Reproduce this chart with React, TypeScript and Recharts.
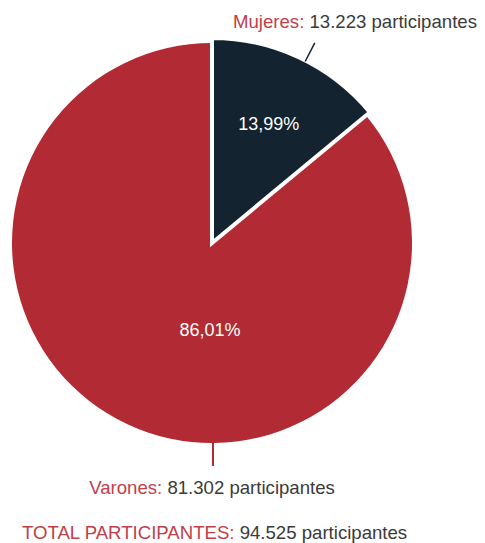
import { PieChart, Pie, Cell } from "recharts";

const groups = ["Mujeres", "Varones"];
const participants = [13223, 81302];
const shares = ["13,99%", "86,01%"];
const counts = ["13.223", "81.302"];
const total = "94.525";

const RED = "#b22b34";
const DARK = "#13232f";
const LABEL_RED = "#c0404a";
const GREY = "#3b3b3b";
const FONT = "'Liberation Sans', Arial, sans-serif";
const FS = 18.6;

const data = groups.map((g, i) => ({ name: g, value: participants[i] }));

const RAD = Math.PI / 180;

function renderLabel(which: number) {
  return (props: any) => {
    const { cx, cy, midAngle, outerRadius, index } = props;
    if (index !== which) return null;
    if (index === 0) {
      const r = outerRadius * 0.64;
      const x = cx + r * Math.cos(-midAngle * RAD);
      const y = cy + r * Math.sin(-midAngle * RAD);
      const a = -(midAngle - 2) * RAD;
      const x1 = cx + (outerRadius - 1) * Math.cos(a);
      const y1 = cy + (outerRadius - 1) * Math.sin(a);
      const x2 = cx + (outerRadius + 20) * Math.cos(a);
      const y2 = cy + (outerRadius + 20) * Math.sin(a);
      return (
        <g>
          <text x={x + 1} y={y} fill="#fff" fontSize={18} fontFamily={FONT} textAnchor="middle" dominantBaseline="central">
            {shares[0]}
          </text>
          <line x1={x1} y1={y1} x2={x2} y2={y2} stroke={DARK} strokeWidth={1.5} />
          <text x={cx + 21} y={cy - outerRadius - 17} fontSize={FS} fontFamily={FONT} textAnchor="start" dominantBaseline="central">
            <tspan fill={LABEL_RED}>{groups[0]}: </tspan>
            <tspan fill={GREY}>{counts[0]} participantes</tspan>
          </text>
        </g>
      );
    }
    return (
      <g>
        <text x={cx - 2} y={cy + 87} fill="#fff" fontSize={18} fontFamily={FONT} textAnchor="middle" dominantBaseline="central">
          {shares[1]}
        </text>
        <line x1={cx + 1} y1={cy + outerRadius - 1} x2={cx + 1} y2={cy + outerRadius + 23} stroke={RED} strokeWidth={2} />
        <text x={cx} y={cy + outerRadius + 44} fontSize={FS} fontFamily={FONT} textAnchor="middle" dominantBaseline="central">
          <tspan fill={LABEL_RED}>{groups[1]}: </tspan>
          <tspan fill={GREY}>{counts[1]} participantes</tspan>
        </text>
      </g>
    );
  };
}

export default function App() {
  return (
    <div style={{ position: "absolute", left: 0, top: 0, width: 485, height: 543, background: "#fff" }}>
      <PieChart width={485} height={543} margin={{ top: 0, right: 0, bottom: 0, left: 0 }}>
        <Pie
          data={data}
          dataKey="value"
          cx={212}
          cy={243}
          outerRadius={200}
          startAngle={90}
          endAngle={-270}
          stroke="none"
          labelLine={false}
          label={renderLabel(1)}
          isAnimationActive={false}
        >
          <Cell fill="transparent" />
          <Cell fill={RED} />
        </Pie>
        <Pie
          data={data}
          dataKey="value"
          cx={212}
          cy={243}
          outerRadius={205}
          startAngle={90}
          endAngle={-270}
          labelLine={false}
          label={renderLabel(0)}
          isAnimationActive={false}
        >
          <Cell fill={DARK} stroke="#fff" strokeWidth={4} />
          <Cell fill="transparent" stroke="none" />
        </Pie>
      </PieChart>
      <div
        style={{
          position: "absolute",
          left: 22,
          top: 522,
          fontFamily: FONT,
          fontSize: FS,
          whiteSpace: "nowrap",
          color: GREY,
        }}
      >
        <span style={{ color: LABEL_RED }}>TOTAL PARTICIPANTES:</span> {total} participantes
      </div>
    </div>
  );
}
